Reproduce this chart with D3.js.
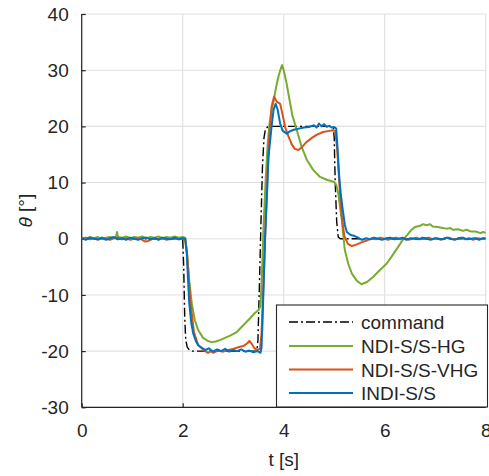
<!DOCTYPE html>
<html>
<head>
<meta charset="utf-8">
<script src="https://cdn.jsdelivr.net/npm/d3@7"></script>
<style>
  html, body { margin: 0; padding: 0; background: #fff; }
  svg { display: block; }
  text { font-family: "Liberation Sans", Arial, Helvetica, sans-serif; fill: #262626; }
</style>
</head>
<body>
<script>
// ---------------- data ----------------
const xTicks = [0, 2, 4, 6, 8];
const yTicks = [-30, -20, -10, 0, 10, 20, 30, 40];
const seriesNames = ["command", "NDI-S/S-HG", "NDI-S/S-VHG", "INDI-S/S"];
const seriesColors = ["#000000", "#77AC30", "#D95319", "#0072BD"];

const command = [
  [0,0],[2.0,0],[2.02,-5],[2.04,-14],[2.06,-18],[2.09,-19.3],[2.13,-19.8],[2.2,-20],
  [3.47,-20],[3.49,-18],[3.52,-8],[3.55,3],[3.58,13],[3.61,18],[3.64,19.6],[3.7,20],
  [4.98,20],[5.0,18],[5.02,10],[5.05,3],[5.08,0.3],[5.12,0],[8,0]
];

const hg = [
  [0,0.2],[0.08,0.0],[0.16,0.3],[0.24,0.1],[0.32,0.3],[0.4,0.0],[0.48,0.2],[0.56,0.3],[0.64,0.1],[0.68,0.4],[0.7,1.2],[0.72,0.3],
  [0.8,0.2],[0.88,0.4],[0.96,0.1],[1.04,0.3],[1.12,0.2],[1.2,0.4],[1.28,0.1],[1.36,0.3],[1.44,0.2],[1.52,0.4],[1.6,0.1],
  [1.68,0.3],[1.76,0.2],[1.84,0.4],[1.92,0.2],[2.0,0.3],[2.05,0.2],
  [2.08,-2],[2.13,-7.5],[2.18,-11.5],[2.24,-14.5],[2.31,-16.3],[2.4,-17.6],[2.5,-18.2],[2.57,-18.4],[2.65,-18.3],
  [2.75,-18.0],[2.85,-17.6],[2.95,-17.2],[3.07,-16.6],[3.2,-15.4],[3.33,-14.2],[3.42,-13.3],[3.5,-12.7],[3.54,-12.0],
  [3.57,-6],[3.6,2],[3.64,10],[3.68,16.5],[3.72,20.5],[3.76,22.8],[3.8,24.5],[3.85,27],[3.9,29],[3.95,30.5],[3.97,30.9],
  [4.0,30.0],[4.05,28],[4.1,25.5],[4.17,22],[4.26,19.3],[4.35,16.5],[4.46,14],[4.58,12.3],[4.72,11],[4.85,10.5],[5.0,10.1],
  [5.04,9.6],[5.08,8.1],[5.15,3.3],[5.21,-2.0],[5.28,-4.5],[5.35,-6.2],[5.45,-7.5],[5.54,-8.1],[5.65,-7.7],[5.77,-6.8],
  [5.9,-5.6],[6.04,-4.4],[6.15,-3.0],[6.27,-1.4],[6.35,-0.3],[6.44,0.6],[6.52,1.5],[6.6,2.1],[6.7,2.3],[6.76,2.6],[6.83,2.4],
  [6.9,2.6],[6.95,2.2],[7.05,2.1],[7.15,1.9],[7.23,1.8],[7.3,1.9],[7.35,1.6],[7.45,1.7],[7.55,1.4],[7.62,1.6],[7.7,1.3],
  [7.8,1.3],[7.9,1.0],[7.95,1.2],[8.0,1.05]
];

const vhg = [
  [0,0.0],[0.08,0.2],[0.16,-0.1],[0.24,0.1],[0.32,-0.2],[0.4,0.1],[0.48,0.0],[0.56,-0.2],[0.64,0.1],[0.72,0.2],[0.8,-0.1],
  [0.88,0.1],[0.96,-0.2],[1.04,0.0],[1.12,0.1],[1.2,-0.2],[1.26,-0.5],[1.32,-0.4],[1.38,-0.1],[1.44,0.1],[1.52,-0.1],
  [1.6,0.1],[1.68,-0.2],[1.76,0.0],[1.84,0.1],[1.92,-0.1],[2.0,0.0],[2.05,-0.2],
  [2.09,-3],[2.15,-11],[2.22,-16.5],[2.3,-18.8],[2.4,-19.7],[2.5,-20.3],[2.56,-20.0],[2.6,-20.3],[2.7,-19.9],[2.8,-20.1],
  [2.9,-19.8],[3.0,-19.6],[3.1,-19.3],[3.2,-19.1],[3.28,-18.6],[3.32,-18.2],[3.36,-18.6],[3.42,-19.5],[3.48,-19.8],[3.53,-19.6],
  [3.56,-17],[3.6,-8],[3.64,2],[3.68,12],[3.72,19],[3.76,23.5],[3.81,25.3],[3.86,24.4],[3.93,24.0],[3.98,22],[4.03,19.8],
  [4.09,18.3],[4.16,16.8],[4.22,16.0],[4.29,15.8],[4.36,16.3],[4.45,17.2],[4.55,17.9],[4.65,18.5],[4.78,19.0],[4.9,19.2],
  [4.98,19.3],[5.02,19.2],[5.06,16],[5.1,10],[5.15,4],[5.2,0.5],[5.27,-0.9],[5.35,-1.3],[5.45,-1.0],[5.55,-0.6],[5.65,-0.3],
  [5.75,0.1],[5.83,-0.1],[5.91,0.2],[5.99,0.0],[6.07,-0.2],[6.15,0.1],[6.23,0.2],[6.31,-0.1],[6.39,0.1],[6.47,-0.2],
  [6.55,0.0],[6.63,0.2],[6.71,-0.1],[6.79,0.1],[6.87,0.2],[6.95,-0.1],[7.03,0.1],[7.11,-0.2],[7.19,0.1],[7.27,0.2],
  [7.35,-0.1],[7.43,0.0],[7.51,0.2],[7.59,-0.1],[7.67,0.1],[7.75,-0.2],[7.83,0.1],[7.91,0.0],[8.0,0.1]
];

const indi = [
  [0,0.1],[0.08,-0.2],[0.16,0.2],[0.24,0.0],[0.32,-0.1],[0.4,0.2],[0.48,-0.2],[0.56,0.1],[0.64,0.3],[0.72,-0.1],[0.8,0.1],
  [0.88,-0.2],[0.96,0.2],[1.04,0.0],[1.12,-0.2],[1.2,0.1],[1.28,0.2],[1.36,-0.1],[1.44,0.1],[1.52,-0.2],[1.6,0.2],[1.68,0.0],
  [1.76,-0.1],[1.84,0.2],[1.92,-0.1],[2.0,0.1],[2.05,0.0],
  [2.08,-2.6],[2.13,-11.5],[2.17,-15],[2.21,-16.9],[2.26,-18.2],[2.31,-19.0],[2.38,-19.4],[2.45,-19.8],[2.52,-19.5],
  [2.6,-20.1],[2.68,-19.7],[2.76,-20.0],[2.84,-19.6],[2.92,-20.1],[3.0,-19.8],[3.08,-20.0],[3.16,-19.7],[3.24,-20.1],
  [3.32,-19.9],[3.4,-20.2],[3.48,-20.0],[3.54,-20.3],[3.56,-19.5],[3.58,-15],[3.6,-9],[3.63,0],[3.67,8],[3.7,14.6],
  [3.76,20],[3.8,23],[3.84,24],[3.88,23],[3.93,20.5],[3.98,19.2],[4.06,18.7],[4.12,19.1],[4.2,19.4],[4.3,19.6],[4.4,19.8],
  [4.5,19.9],[4.6,20.2],[4.65,19.8],[4.7,20.5],[4.75,20.0],[4.8,20.4],[4.85,19.9],[4.9,20.1],[4.95,19.8],[5.0,19.9],
  [5.04,19.6],[5.07,15.5],[5.1,11],[5.13,8],[5.17,5.1],[5.21,2.5],[5.25,1.2],[5.32,0.7],[5.4,0.5],[5.47,0.2],[5.55,-0.2],
  [5.63,0.1],[5.71,-0.1],[5.79,0.2],[5.87,0.0],[5.95,-0.2],[6.03,0.1],[6.11,0.2],[6.19,-0.1],[6.27,0.0],[6.35,0.2],
  [6.43,-0.2],[6.51,0.1],[6.59,0.0],[6.67,-0.1],[6.75,0.2],[6.83,0.0],[6.91,-0.2],[6.99,0.1],[7.07,0.0],[7.15,-0.1],
  [7.23,0.2],[7.31,0.0],[7.39,-0.2],[7.47,0.1],[7.55,0.2],[7.63,-0.1],[7.71,0.0],[7.79,0.1],[7.87,-0.2],[7.95,0.1],[8.0,0.0]
];

const seriesData = [command, hg, vhg, indi];

// ---------------- chart ----------------
const W = 489, H = 476;
const svg = d3.select("body").append("svg").attr("width", W).attr("height", H);

const x = d3.scaleLinear().domain([0, 8]).range([81.7, 485.7]);
const y = d3.scaleLinear().domain([-30, 40]).range([407.3, 14]);

const axisColor = "#262626";
const gridColor = "#e0e0e0";

// grid
const grid = svg.append("g");
grid.selectAll("line.gx").data(xTicks).join("line")
  .attr("x1", d => x(d)).attr("x2", d => x(d))
  .attr("y1", y(-30)).attr("y2", y(40))
  .attr("stroke", gridColor).attr("stroke-width", 1.1);
grid.selectAll("line.gy").data(yTicks).join("line")
  .attr("x1", x(0)).attr("x2", x(8))
  .attr("y1", d => y(d)).attr("y2", d => y(d))
  .attr("stroke", gridColor).attr("stroke-width", 1.1);

// axes
const fontSize = 19;
const xAxis = d3.axisBottom(x).tickValues(xTicks).tickSize(-4).tickPadding(16).tickFormat(d3.format("d"));
const yAxis = d3.axisLeft(y).tickValues(yTicks).tickSize(-4).tickPadding(13).tickFormat(d => d3.format("d")(d).replace("−", "-"));

const gx = svg.append("g").attr("transform", `translate(0,${y(-30)})`).call(xAxis);
const gy = svg.append("g").attr("transform", `translate(${x(0)},0)`).call(yAxis);
[gx, gy].forEach(g => {
  g.select(".domain").attr("stroke", axisColor).attr("stroke-width", 1.2);
  g.selectAll(".tick line").attr("stroke", axisColor).attr("stroke-width", 1.2);
  g.selectAll(".tick text").attr("font-size", fontSize).attr("fill", axisColor)
    .attr("font-family", '"Liberation Sans", Arial, Helvetica, sans-serif');
});
// remove domain end stubs (tickSizeOuter)
gx.select(".domain").attr("d", `M${x(0)},0H${x(8)}`);
gy.select(".domain").attr("d", `M0,${y(-30)}V${y(40)}`);

// axis labels
svg.append("text")
  .attr("x", (x(0) + x(8)) / 2).attr("y", 466)
  .attr("text-anchor", "middle").attr("font-size", fontSize)
  .text("t [s]");

const yl = svg.append("text")
  .attr("transform", `translate(31.5,${(y(-30) + y(40)) / 2}) rotate(-90)`)
  .attr("text-anchor", "middle").attr("font-size", fontSize);
yl.append("tspan").attr("font-style", "italic").text("θ");
yl.append("tspan").text(" [°]");

// lines
const line = d3.line().x(d => x(d[0])).y(d => y(d[1]));
const plot = svg.append("g");
seriesData.forEach((data, i) => {
  plot.append("path")
    .datum(data)
    .attr("d", line)
    .attr("fill", "none")
    .attr("stroke", seriesColors[i])
    .attr("stroke-width", i === 0 ? 1.4 : 2)
    .attr("stroke-linejoin", "round")
    .attr("stroke-dasharray", i === 0 ? "9,3,2,3" : null);
});

// legend
const lg = svg.append("g");
lg.append("rect")
  .attr("x", 276.5).attr("y", 305).attr("width", 211).attr("height", 102)
  .attr("fill", "#fff").attr("stroke", axisColor).attr("stroke-width", 1.1);
const rowsY = [322, 346, 369.5, 393];
seriesNames.forEach((name, i) => {
  lg.append("line")
    .attr("x1", 289).attr("x2", 353)
    .attr("y1", rowsY[i]).attr("y2", rowsY[i])
    .attr("stroke", seriesColors[i])
    .attr("stroke-width", i === 0 ? 1.4 : 2)
    .attr("stroke-dasharray", i === 0 ? "9,3,2,3" : null);
  lg.append("text")
    .attr("x", 361).attr("y", rowsY[i] + 7)
    .attr("font-size", fontSize)
    .text(name);
});
</script>
</body>
</html>
